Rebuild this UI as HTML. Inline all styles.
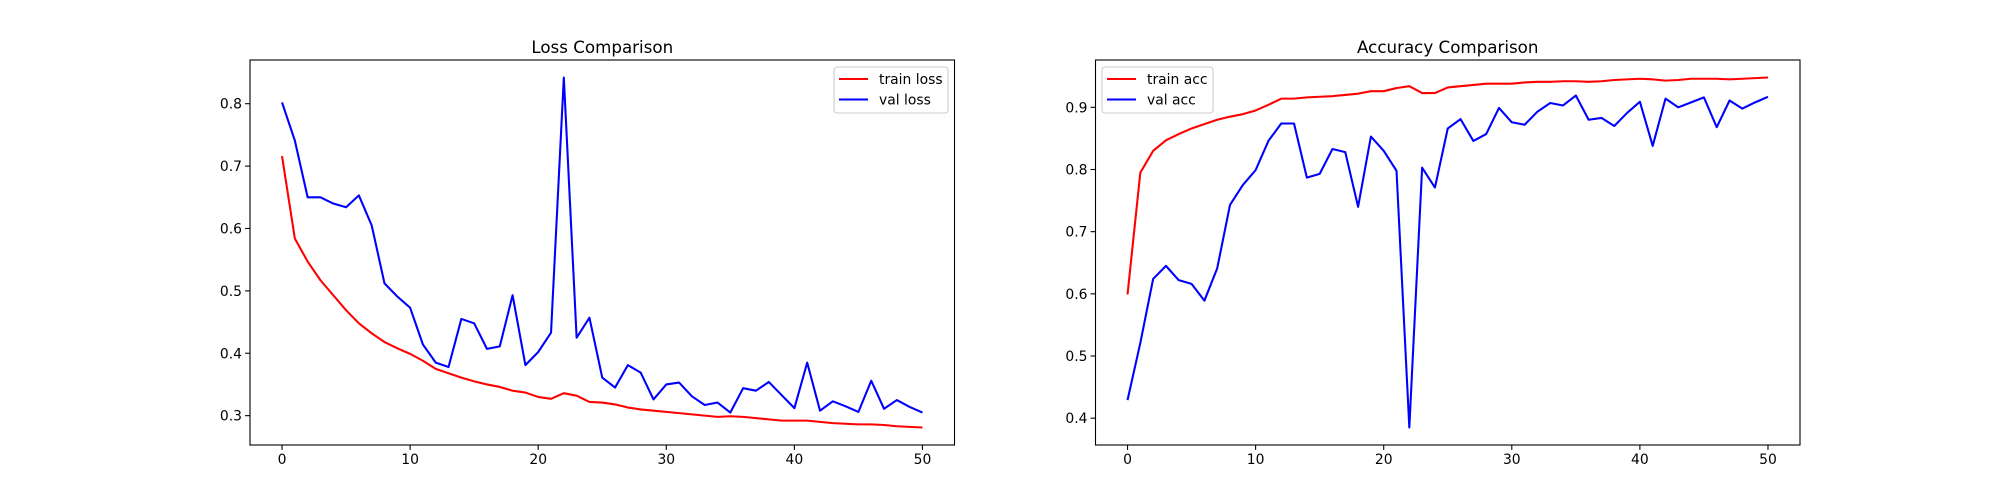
<!DOCTYPE html>
<html><head><meta charset="utf-8"><style>
html,body{margin:0;padding:0;background:#fff}
svg{display:block}
text{font-family:"DejaVu Sans","Liberation Sans",sans-serif;fill:#000}
</style></head><body>
<svg id="fig" width="2000" height="500" viewBox="0 0 2000 500" xmlns="http://www.w3.org/2000/svg"></svg>
<script>
const epochs = Array.from({length:51},(_,i)=>i);
const trainLoss = [0.716,0.584,0.547,0.517,0.493,0.469,0.448,0.432,0.418,0.408,0.399,0.388,0.375,0.368,0.361,0.355,0.350,0.346,0.340,0.337,0.330,0.327,0.336,0.332,0.322,0.321,0.318,0.313,0.310,0.308,0.306,0.304,0.302,0.300,0.298,0.299,0.298,0.296,0.294,0.292,0.292,0.292,0.290,0.288,0.287,0.286,0.286,0.285,0.283,0.282,0.281];
const valLoss = [0.802,0.741,0.650,0.650,0.640,0.634,0.653,0.605,0.512,0.491,0.473,0.414,0.385,0.378,0.455,0.448,0.407,0.411,0.493,0.381,0.402,0.433,0.842,0.425,0.457,0.361,0.345,0.381,0.369,0.326,0.350,0.353,0.331,0.317,0.321,0.305,0.344,0.340,0.354,0.333,0.312,0.385,0.308,0.323,0.315,0.306,0.356,0.311,0.325,0.314,0.305];
const trainAcc = [0.599,0.795,0.830,0.847,0.857,0.866,0.873,0.880,0.885,0.889,0.895,0.904,0.914,0.914,0.916,0.917,0.918,0.920,0.922,0.926,0.926,0.931,0.934,0.923,0.923,0.932,0.934,0.936,0.938,0.938,0.938,0.940,0.941,0.941,0.942,0.942,0.941,0.942,0.944,0.945,0.946,0.945,0.943,0.944,0.946,0.946,0.946,0.945,0.946,0.947,0.948];
const valAcc = [0.429,0.521,0.624,0.645,0.622,0.616,0.589,0.641,0.743,0.775,0.799,0.846,0.874,0.874,0.787,0.793,0.833,0.828,0.740,0.853,0.830,0.798,0.385,0.803,0.771,0.866,0.881,0.846,0.857,0.899,0.876,0.872,0.893,0.907,0.903,0.919,0.880,0.883,0.870,0.891,0.909,0.838,0.914,0.900,0.908,0.916,0.868,0.911,0.898,0.908,0.917];
const xTicks = [0,10,20,30,40,50];
const lossTicks = [0.3,0.4,0.5,0.6,0.7,0.8];
const accTicks = [0.4,0.5,0.6,0.7,0.8,0.9];

const NS='http://www.w3.org/2000/svg';
const svg=document.getElementById('fig');
function mk(tag,attrs,parent){const e=document.createElementNS(NS,tag);for(const k in attrs)e.setAttribute(k,attrs[k]);(parent||svg).appendChild(e);return e;}

function drawPanel(cfg){
  const L=cfg.left,R=cfg.left+704.5,T=60,B=445;
  const all=cfg.s1.concat(cfg.s2);
  let mn=Math.min(...all),mx=Math.max(...all);const m=(mx-mn)*0.05;mn-=m;mx+=m;
  const xs=v=>L+(v+2.5)/55*(R-L);
  const ys=v=>B-(v-mn)/(mx-mn)*(B-T);
  const g=mk('g',{});
  
  
  const clip=mk('clipPath',{id:cfg.name+'-clip'},g);mk('rect',{x:L,y:T,width:R-L,height:B-T},clip);
  [[cfg.s1,'#ff0000',cfg.n1],[cfg.s2,'#0000ff',cfg.n2]].forEach(([s,c,n])=>{
    const p=mk('polyline',{points:s.map((v,i)=>xs(epochs[i]).toFixed(2)+','+ys(v).toFixed(2)).join(' '),fill:'none',stroke:c,'stroke-width':2.08,'stroke-linejoin':'round','clip-path':'url(#'+cfg.name+'-clip)'},g);
    
    
  });
  const fr=mk('rect',{x:L,y:T,width:R-L,height:B-T,fill:'none',stroke:'#000','stroke-width':1.1},g);
  
  
  xTicks.forEach(t=>{const x=xs(t);mk('line',{x1:x,x2:x,y1:B,y2:B+4.9,stroke:'#000','stroke-width':1.1},g);
    const tx=mk('text',{x:x,y:B+19,'font-size':13.9,'text-anchor':'middle'},g);tx.textContent=t;
    
    });
  cfg.yt.forEach(t=>{const y=ys(t);mk('line',{x1:L-4.9,x2:L,y1:y,y2:y,stroke:'#000','stroke-width':1.1},g);
    const tx=mk('text',{x:L-8,y:y+5,'font-size':13.9,'text-anchor':'end'},g);tx.textContent=t.toFixed(1);
    
    });
  const ti=mk('text',{x:(L+R)/2,y:T-7,'font-size':16.7,'text-anchor':'middle'},g);ti.textContent=cfg.title;
  
  
  const lg=mk('g',{},g);
  
  
  const lx=cfg.legX,lw=cfg.legW;
  mk('rect',{x:lx,y:67,width:lw,height:46,rx:3,fill:'#fff','fill-opacity':0.8,stroke:'#cccccc','stroke-width':1.1},lg);
  [[cfg.n1,'#ff0000',79],[cfg.n2,'#0000ff',99.5]].forEach(([n,c,y])=>{
    mk('line',{x1:lx+5,x2:lx+34,y1:y,y2:y,stroke:c,'stroke-width':2.08},lg);
    const t=mk('text',{x:lx+45,y:y+5,'font-size':13.9},lg);t.textContent=n;
    
    
  });
}
drawPanel({name:'loss-chart',left:250,s1:trainLoss,s2:valLoss,n1:'train loss',n2:'val loss',yt:lossTicks,title:'Loss Comparison',legX:834,legW:114});
drawPanel({name:'accuracy-chart',left:1095.5,s1:trainAcc,s2:valAcc,n1:'train acc',n2:'val acc',yt:accTicks,title:'Accuracy Comparison',legX:1102,legW:111});
</script>
</body></html>
